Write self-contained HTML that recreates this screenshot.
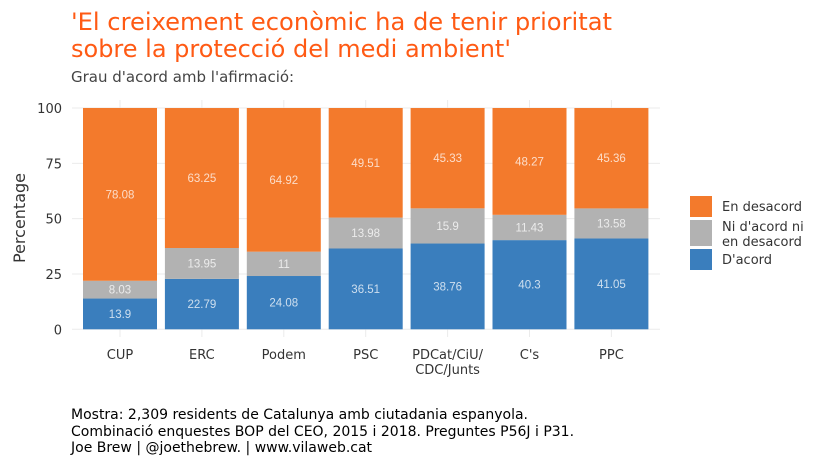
<!DOCTYPE html>
<html><head><meta charset="utf-8">
<style>
html,body{margin:0;padding:0;background:#fff;}
body{width:829px;height:466px;overflow:hidden;font-family:"DejaVu Sans","Liberation Sans",sans-serif;}
</style></head>
<body>
<svg id="chart" width="829" height="466" xmlns="http://www.w3.org/2000/svg" font-family="DejaVu Sans, Liberation Sans, sans-serif">
<text x="71" y="30" font-size="24" fill="#ff5a14" textLength="541" lengthAdjust="spacingAndGlyphs">'El creixement econòmic ha de tenir prioritat</text>
<text x="71" y="57" font-size="24" fill="#ff5a14">sobre la protecció del medi ambient'</text>
<text x="71" y="82" font-size="15" fill="#444">Grau d'acord amb l'afirmació:</text>
<g id="grid"></g>
<g id="bars"></g>
<g id="labels"></g>
<text transform="translate(25,218) rotate(-90)" text-anchor="middle" font-size="16" fill="#333">Percentage</text>
<g>
<rect x="690" y="196" width="22" height="21" fill="#f37a2c"/>
<rect x="690" y="220" width="22" height="26" fill="#b2b2b2"/>
<rect x="690" y="249" width="22" height="21" fill="#3a7ebd"/>
<text x="722" y="211" font-size="13" fill="#333">En desacord</text>
<text x="722" y="231" font-size="13" fill="#333">Ni d'acord ni</text>
<text x="722" y="246" font-size="13" fill="#333">en desacord</text>
<text x="722" y="264" font-size="13" fill="#333">D'acord</text>
</g>
<text x="71" y="419" font-size="14" fill="#000">Mostra: 2,309 residents de Catalunya amb ciutadania espanyola.</text>
<text x="71" y="436" font-size="14" fill="#000">Combinació enquestes BOP del CEO, 2015 i 2018. Preguntes P56J i P31.</text>
<text x="71" y="452" font-size="14" fill="#000">Joe Brew | @joethebrew. | www.vilaweb.cat</text>
</svg>
<script>
const categories = ["CUP","ERC","Podem","PSC","PDCat/CiU/\nCDC/Junts","C's","PPC"];
const acord = [13.9,22.79,24.08,36.51,38.76,40.3,41.05];
const ni = [8.03,13.95,11,13.98,15.9,11.43,13.58];
const desacord = [78.08,63.25,64.92,49.51,45.33,48.27,45.36];
const yTicks = [0,25,50,75,100];
const NS="http://www.w3.org/2000/svg";
const y = v => 329.3 - v*2.213;
const xc = i => 120 + i*81.9;
const bw = 74;
function mk(tag, attrs, parent){const e=document.createElementNS(NS,tag);for(const k in attrs)e.setAttribute(k,attrs[k]);parent.appendChild(e);return e;}
const grid=document.getElementById('grid'), bars=document.getElementById('bars'), labels=document.getElementById('labels');
yTicks.forEach(t=>{
  const l=mk('line',{x1:72,x2:660,y1:y(t),y2:y(t),stroke:'#ebebeb','stroke-width':1},grid);
  
  
  const tx=mk('text',{x:62,y:y(t)+5,'text-anchor':'end','font-size':13,fill:'#333'},grid);
  tx.textContent=t;
  
  
});
categories.forEach((c,i)=>{
  const l=mk('line',{x1:xc(i),x2:xc(i),y1:100,y2:337,stroke:'#ebebeb','stroke-width':1},grid);
  
  
  const parts=c.split('\n');
  parts.forEach((p,j)=>{
    const tx=mk('text',{x:xc(i),y:359+j*15,'text-anchor':'middle','font-size':13,fill:'#333'},grid);
    tx.textContent=p;
    
    
  });
  const segs=[[acord[i],'#3a7ebd','bar-acord'],[ni[i],'#b2b2b2','bar-ni'],[desacord[i],'#f37a2c','bar-desacord']];
  let base=0;
  segs.forEach(([v,col,nm])=>{
    const r=mk('rect',{x:xc(i)-bw/2,y:y(base+v),width:bw,height:y(base)-y(base+v),fill:col},bars);
    
    
    const t=mk('text',{x:xc(i),y:y(base+v/2)+4,'text-anchor':'middle','font-size':11.5,'font-family':'Liberation Sans, sans-serif',fill:'#fff','fill-opacity':0.75},labels);
    t.textContent=v;
    
    
    base+=v;
  });
});
</script>
</body></html>
